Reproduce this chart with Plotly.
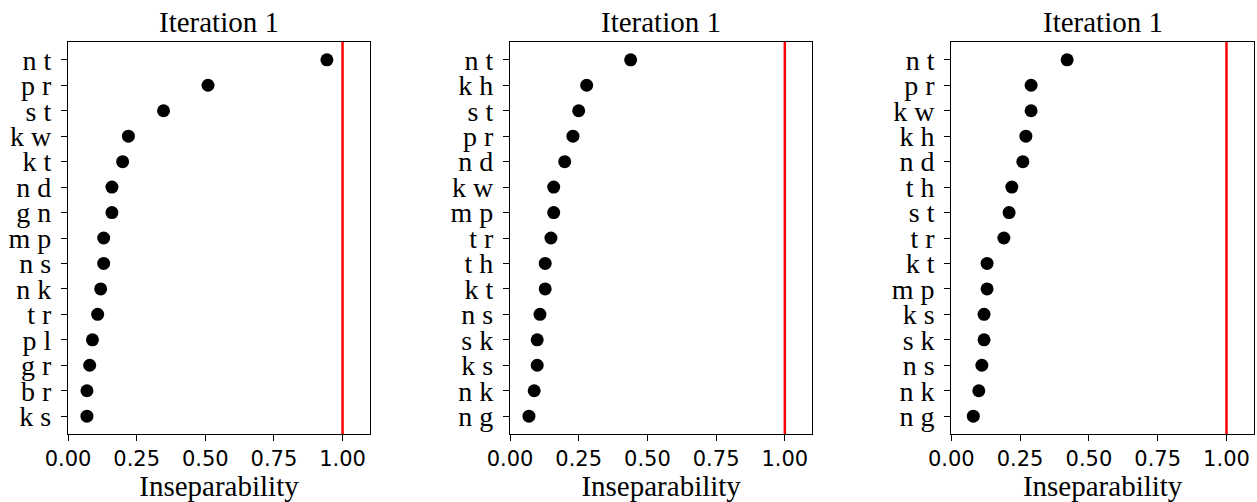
import plotly.graph_objects as go
from plotly.subplots import make_subplots

# ---- data ----
titles = ["Iteration 1", "Iteration 1", "Iteration 1"]

labels_1 = ["n t", "p r", "s t", "k w", "k t", "n d", "g n", "m p", "n s", "n k", "t r", "p l", "g r", "b r", "k s"]
values_1 = [0.943, 0.510, 0.348, 0.220, 0.199, 0.160, 0.160, 0.130, 0.130, 0.119, 0.108, 0.089, 0.079, 0.069, 0.069]

labels_2 = ["n t", "k h", "s t", "p r", "n d", "k w", "m p", "t r", "t h", "k t", "n s", "s k", "k s", "n k", "n g"]
values_2 = [0.439, 0.279, 0.250, 0.229, 0.199, 0.159, 0.159, 0.149, 0.128, 0.128, 0.109, 0.099, 0.099, 0.088, 0.069]

labels_3 = ["n t", "p r", "k w", "k h", "n d", "t h", "s t", "t r", "k t", "m p", "k s", "s k", "n s", "n k", "n g"]
values_3 = [0.421, 0.290, 0.290, 0.271, 0.260, 0.220, 0.210, 0.191, 0.130, 0.130, 0.119, 0.119, 0.111, 0.100, 0.080]

threshold = 1.0
x_ticks = [0.0, 0.25, 0.5, 0.75, 1.0]
x_tick_text = ["0.00", "0.25", "0.50", "0.75", "1.00"]
x_label = "Inseparability"

panels = [(labels_1, values_1), (labels_2, values_2), (labels_3, values_3)]

W, H = 1257, 502
SERIF = "Liberation Serif"
SANS = "DejaVu Sans"

fig = make_subplots(rows=1, cols=3, subplot_titles=titles)

x_domains = [(68 / W, 370 / W), (510 / W, 812.3 / W), (951.3 / W, 1254 / W)]

for i, (labs, vals) in enumerate(panels):
    col = i + 1
    fig.add_trace(
        go.Scatter(
            x=vals, y=labs, mode="markers",
            marker=dict(color="black", size=13, line=dict(width=0)),
            showlegend=False, cliponaxis=False,
        ),
        row=1, col=col,
    )
    fig.add_vline(x=threshold, line=dict(color="#ff0000", width=2.5), row=1, col=col)
    n = len(labs)
    fig.update_xaxes(
        domain=list(x_domains[i]), range=[0, 1.1], automargin=False,
        tickmode="array", tickvals=x_ticks, ticktext=x_tick_text,
        ticks="outside", ticklen=6, tickwidth=1.1, tickcolor="black",
        showline=True, mirror=True, linecolor="black", linewidth=1.3,
        showgrid=False, zeroline=False,
        tickfont=dict(family=SANS, size=21, color="black"),
        title=dict(text=x_label, font=dict(family=SERIF, size=29, color="black"), standoff=2),
        row=1, col=col,
    )
    fig.update_yaxes(
        type="category", categoryorder="array", categoryarray=labs,
        range=[n - 1 + 0.7, -0.7], automargin=False,
        tickmode="array", tickvals=labs, ticktext=labs,
        ticks="outside", ticklen=6, tickwidth=1.1, tickcolor="black",
        showline=True, mirror=True, linecolor="black", linewidth=1.3,
        showgrid=False, zeroline=False,
        tickfont=dict(family=SERIF, size=28, color="black"),
        ticklabelstandoff=4,
        row=1, col=col,
    )

for i, ann in enumerate(fig.layout.annotations):
    ann.font = dict(family=SERIF, size=29, color="black")
    ann.x = (x_domains[i][0] + x_domains[i][1]) / 2
    ann.yshift = 2

fig.update_layout(
    template="none",
    width=W, height=H,
    margin=dict(l=0, r=0, t=42, b=68, pad=0),
    plot_bgcolor="white", paper_bgcolor="white",
)

fig.write_html("out.html")
